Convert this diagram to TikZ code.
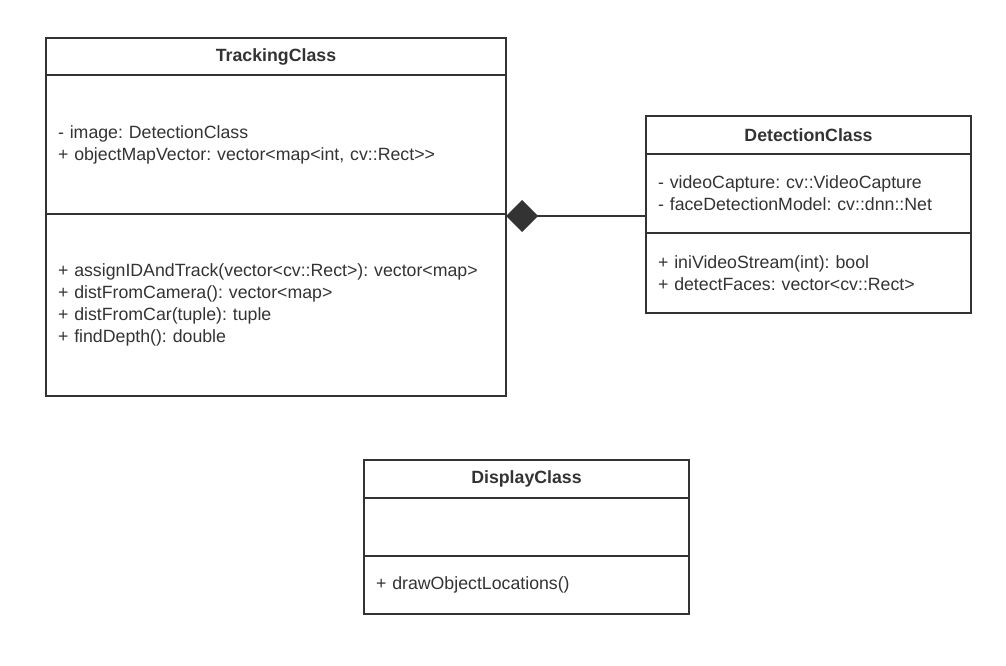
\documentclass[tikz,border=0pt]{standalone}
\usepackage{fontspec}
\setmainfont{Liberation Sans}
\frenchspacing
\usetikzlibrary{positioning,arrows.meta}
\definecolor{umlgray}{HTML}{333333}
\begin{document}
\begin{tikzpicture}[x=0.75pt,y=-0.75pt,
  every node/.style={outer sep=0pt, text=umlgray},
  classhead/.style={draw=umlgray, line width=1.5pt, inner sep=0pt,
    font=\fontsize{13.3}{16.5}\selectfont\bfseries},
  classpart/.style={draw=umlgray, line width=1.5pt, align=left,
    inner xsep=9pt, inner ysep=0pt, font=\fontsize{13.3}{16.5}\selectfont}
]
    \useasboundingbox (0,0) rectangle (1006,665);

    \node[classhead, anchor=north west, minimum width=345pt, minimum height=27.75pt] (trackhead) at (46,38) {TrackingClass};
    \node[classpart, below=0pt of trackhead, text width=327pt, minimum height=104.25pt] (trackattr)
      {- image: DetectionClass\\+ objectMapVector: vector<map<int, cv::Rect>{}>};
    \node[classpart, below=0pt of trackattr, text width=327pt, minimum height=136.5pt] (trackmeth)
      {+ assignIDAndTrack(vector<cv::Rect>): vector<map>\\+ distFromCamera(): vector<map>\\+ distFromCar(tuple): tuple\\+ findDepth(): double};

    \node[classhead, anchor=north west, minimum width=243.75pt, minimum height=28.5pt] (dethead) at (646,116) {DetectionClass};
    \node[classpart, below=0pt of dethead, text width=225.75pt, minimum height=59.25pt] (detattr)
      {- videoCapture: cv::VideoCapture\\- faceDetectionModel: cv::dnn::Net};
    \node[classpart, below=0pt of detattr, text width=225.75pt, minimum height=60pt] (detmeth)
      {+ iniVideoStream(int): bool\\+ detectFaces: vector<cv::Rect>};

    \node[classhead, anchor=north west, minimum width=243.75pt, minimum height=28.5pt] (disphead) at (364,460) {DisplayClass};
    \node[classpart, below=0pt of disphead, text width=225.75pt, minimum height=43.5pt] (dispattr) {};
    \node[classpart, below=0pt of dispattr, text width=225.75pt, minimum height=43.5pt] (dispmeth)
      {+ drawObjectLocations()};

    \coordinate (compo) at ([yshift=-1.5pt]trackmeth.north east);
    \draw[umlgray, line width=1.1pt, {Diamond[length=24pt 0 0, width=24pt 0 0]}-] (compo) -- (compo -| detattr.west);
\end{tikzpicture}
\end{document}
